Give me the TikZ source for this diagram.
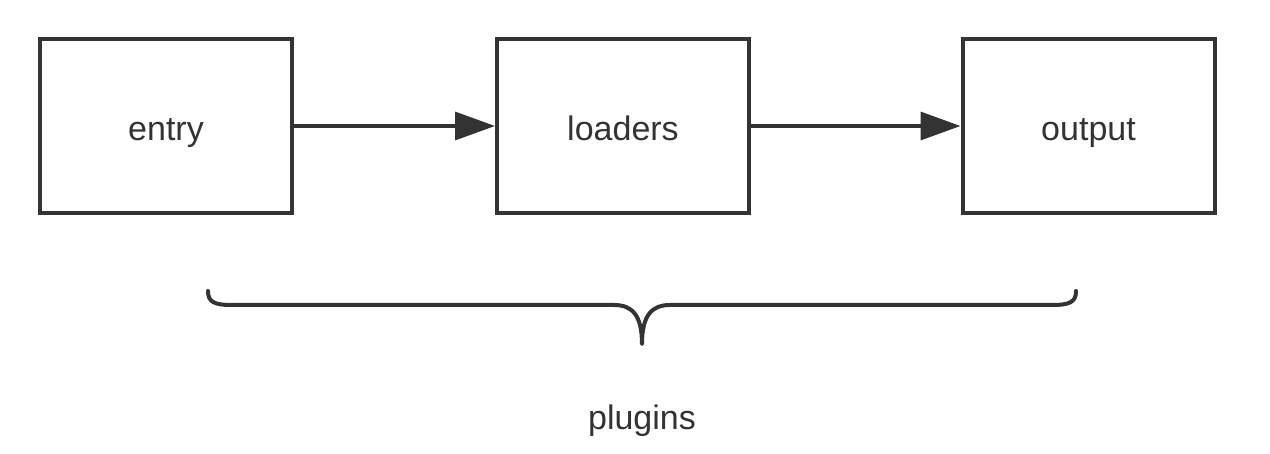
\documentclass[tikz,border=0pt]{standalone}
\usepackage{fontspec}
\setmainfont{Liberation Sans}
\usetikzlibrary{arrows.meta}
\definecolor{ink}{HTML}{333333}
\tikzset{
  blockbox/.style={draw=ink, line width=4pt, minimum width=252pt, minimum height=174pt, inner sep=0pt, text height=31pt, text depth=1pt, font=\fontsize{34}{40}\selectfont, text=ink},
  flow/.style={draw=ink, line width=3.5pt, -{Triangle[length=40pt,width=28pt]}},
  bracepath/.style={draw=ink, line width=4pt, line cap=round, line join=round},
  lbl/.style={font=\fontsize{34}{40}\selectfont, text=ink, inner sep=0pt}
}
\begin{document}
\begin{tikzpicture}[x=1pt,y=-1pt]
\useasboundingbox (0,0) rectangle (1270,454);
\node[blockbox] (entry) at (166,126) {entry};
\node[blockbox] (loaders) at (623,126) {loaders};
\node[blockbox] (output) at (1088.5,126) {output};
\draw[flow] (entry) -- (loaders);
\draw[flow] (loaders) -- (output);
\coordinate (bl) at (208,291);
\coordinate (br) at (1076,291);
\coordinate (tip) at (642,344);
\draw[bracepath] (bl) .. controls (208,302) and (214,305) .. (232,305) -- (614,305)
  .. controls (632,305) and (642,315) .. (tip)
  .. controls (642,315) and (652,305) .. (670,305) -- (1052,305)
  .. controls (1070,305) and (1076,302) .. (br);
\node[lbl, anchor=base] (plugins) at (642,430) {plugins};
\end{tikzpicture}
\end{document}
